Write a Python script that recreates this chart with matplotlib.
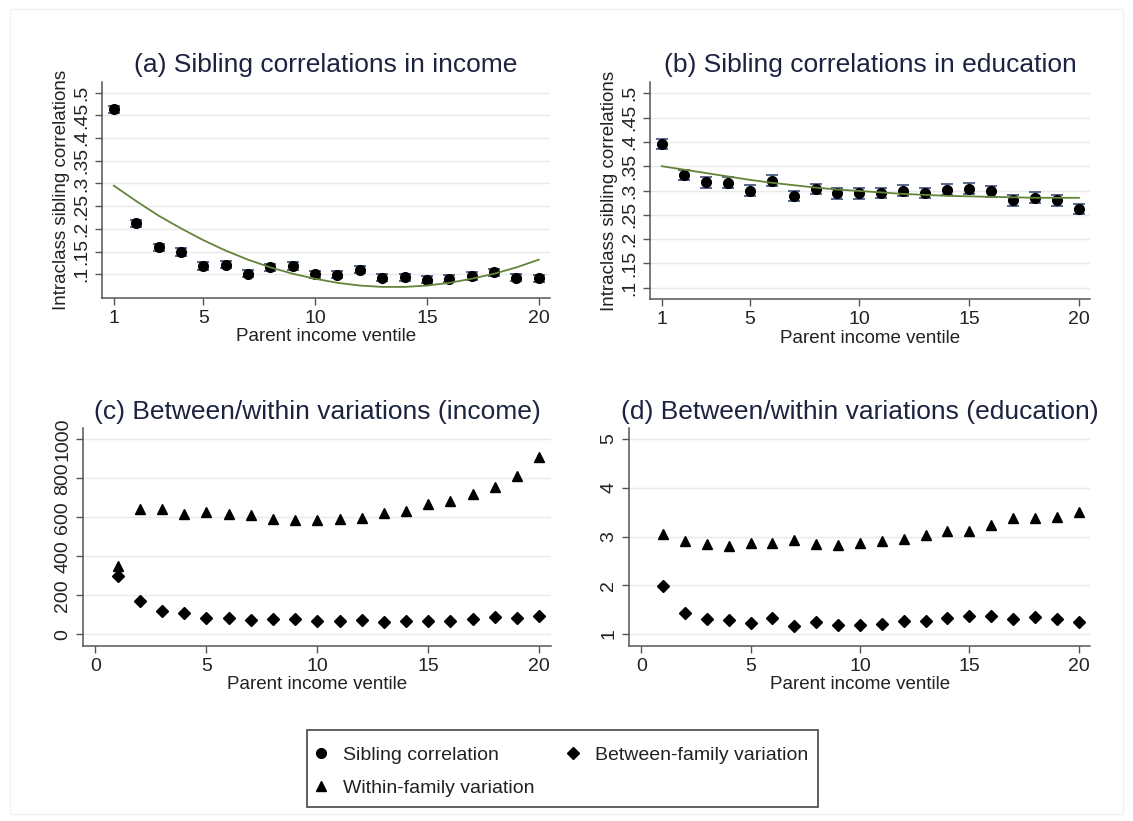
import matplotlib
matplotlib.use("Agg")
import matplotlib.pyplot as plt
from matplotlib.lines import Line2D
from matplotlib.patches import Rectangle

plt.rcParams['font.family'] = ['Liberation Sans', 'DejaVu Sans']

# ---- data ----
ventile = list(range(1, 21))

sib_income = [0.463, 0.212, 0.159, 0.149, 0.118, 0.121, 0.101, 0.115, 0.118, 0.100,
              0.099, 0.110, 0.092, 0.093, 0.088, 0.090, 0.096, 0.104, 0.092, 0.091]
sib_income_err = [0.008] * 20
fit_income = [0.295, 0.261, 0.229, 0.201, 0.175, 0.152, 0.132, 0.115, 0.101, 0.090,
              0.081, 0.075, 0.072, 0.072, 0.075, 0.081, 0.090, 0.101, 0.115, 0.132]

sib_educ = [0.396, 0.332, 0.317, 0.316, 0.300, 0.320, 0.289, 0.303, 0.294, 0.294,
            0.295, 0.300, 0.295, 0.302, 0.304, 0.298, 0.280, 0.285, 0.280, 0.262]
sib_educ_err = [0.011] * 20
fit_educ = [0.350, 0.343, 0.336, 0.329, 0.322, 0.316, 0.311, 0.306, 0.302, 0.299,
            0.296, 0.293, 0.291, 0.289, 0.288, 0.287, 0.286, 0.285, 0.285, 0.285]

within_income = [350, 643, 644, 617, 626, 617, 610, 591, 585, 585,
                 590, 595, 621, 634, 668, 685, 718, 757, 809, 908]
between_income = [299, 173, 121, 108, 84, 85, 72, 77, 79, 67,
                  67, 74, 63, 67, 67, 70, 77, 91, 84, 94]

within_educ = [3.05, 2.91, 2.84, 2.81, 2.87, 2.86, 2.92, 2.85, 2.83, 2.87,
               2.90, 2.94, 3.03, 3.11, 3.11, 3.24, 3.37, 3.37, 3.41, 3.50]
between_educ = [1.98, 1.44, 1.31, 1.29, 1.23, 1.32, 1.17, 1.24, 1.18, 1.18,
                1.20, 1.26, 1.26, 1.33, 1.36, 1.37, 1.30, 1.34, 1.31, 1.24]

corr_ticks = [0.1, 0.15, 0.2, 0.25, 0.3, 0.35, 0.4, 0.45, 0.5]
corr_labels = ['.1', '.15', '.2', '.25', '.3', '.35', '.4', '.45', '.5']

titles = ['(a) Sibling correlations in income', '(b) Sibling correlations in education',
          '(c) Between/within variations (income)', '(d) Between/within variations (education)']

title_col = '#1c2340'
axis_col = '#555555'
grid_col = '#eaeaea'
err_col = '#3b4f78'
fit_col = '#62853a'

fig = plt.figure(figsize=(11.33, 8.21), dpi=100)
fig.patches.append(Rectangle((0.009, 0.008), 0.982, 0.981, transform=fig.transFigure,
                             fill=False, edgecolor='#f2f2f2', lw=1))

ax_a = fig.add_axes([0.0898, 0.6367, 0.3956, 0.2638])
ax_b = fig.add_axes([0.5737, 0.6354, 0.3883, 0.2651])
ax_c = fig.add_axes([0.0735, 0.2132, 0.4126, 0.2651])
ax_d = fig.add_axes([0.5554, 0.2132, 0.4066, 0.2651])


def style(ax, title):
    for s in ['top', 'right']:
        ax.spines[s].set_visible(False)
    for s in ['left', 'bottom']:
        ax.spines[s].set_color(axis_col)
        ax.spines[s].set_linewidth(1.1)
    ax.tick_params(colors=axis_col, labelcolor='#222222', labelsize=14, length=5, width=1)
    ax.grid(axis='y', color=grid_col, lw=1)
    ax.set_axisbelow(True)
    ax.set_title(title, fontsize=19, color=title_col, pad=7)
    ax.set_xlabel('Parent income ventile', fontsize=13.5, color='#222222', labelpad=1)


# top row: sibling correlations with CIs and quadratic fit
for ax, vals, errs, fit, ylo, title in [
        (ax_a, sib_income, sib_income_err, fit_income, 0.047, titles[0]),
        (ax_b, sib_educ, sib_educ_err, fit_educ, 0.076, titles[1])]:
    style(ax, title)
    ax.errorbar(ventile, vals, yerr=errs, fmt='none', ecolor=err_col, elinewidth=1.2,
                capsize=4.5, capthick=1.2, zorder=2)
    ax.plot(ventile, vals, 'o', color='black', ms=7, zorder=3)
    ax.plot(ventile, fit, '-', color=fit_col, lw=1.3, zorder=4)
    ax.set_xlim(0.46, 20.5)
    ax.set_ylim(ylo, 0.524)
    ax.set_xticks([1, 5, 10, 15, 20])
    ax.set_yticks(corr_ticks)
    ax.set_yticklabels(corr_labels, rotation=90, va='center')
    ax.set_ylabel('Intraclass sibling correlations', fontsize=13.5, color='#222222', labelpad=2)

# bottom row: within / between variation
for ax, wv, bv, ylim, yt, title in [
        (ax_c, within_income, between_income, (-60, 1056), [0, 200, 400, 600, 800, 1000], titles[2]),
        (ax_d, within_educ, between_educ, (0.754, 5.22), [1, 2, 3, 4, 5], titles[3])]:
    style(ax, title)
    ax.plot(ventile, wv, '^', color='black', ms=7.5, zorder=3)
    ax.plot(ventile, bv, 'D', color='black', ms=6.5, zorder=3)
    ax.set_xlim(-0.55, 20.52)
    ax.set_ylim(*ylim)
    ax.set_xticks([0, 5, 10, 15, 20])
    ax.set_yticks(yt)
    ax.set_yticklabels([str(v) for v in yt], rotation=90, va='center')

# legend box drawn separately so its padding can match
fig.patches.append(Rectangle((307 / 1133, 14 / 821), 511 / 1133, 77 / 821,
                             transform=fig.transFigure, fill=False,
                             edgecolor='#444444', lw=1.2))
handles = [Line2D([], [], ls='none', marker='o', color='black', ms=7),
           Line2D([], [], ls='none', marker='^', color='black', ms=7),
           Line2D([], [], ls='none', marker='D', color='black', ms=6)]
labels = ['Sibling correlation', 'Within-family variation', 'Between-family variation']
leg = fig.legend(handles, labels, ncol=2, loc='upper left', bbox_to_anchor=(313 / 1133, 0.091),
                 fontsize=14, frameon=False, borderpad=0, borderaxespad=0,
                 handlelength=0.8, handletextpad=0.73, columnspacing=1.6,
                 labelspacing=0.8)
for t in leg.get_texts():
    t.set_color('#222222')

fig.savefig('out.png', dpi=100, facecolor='white')
